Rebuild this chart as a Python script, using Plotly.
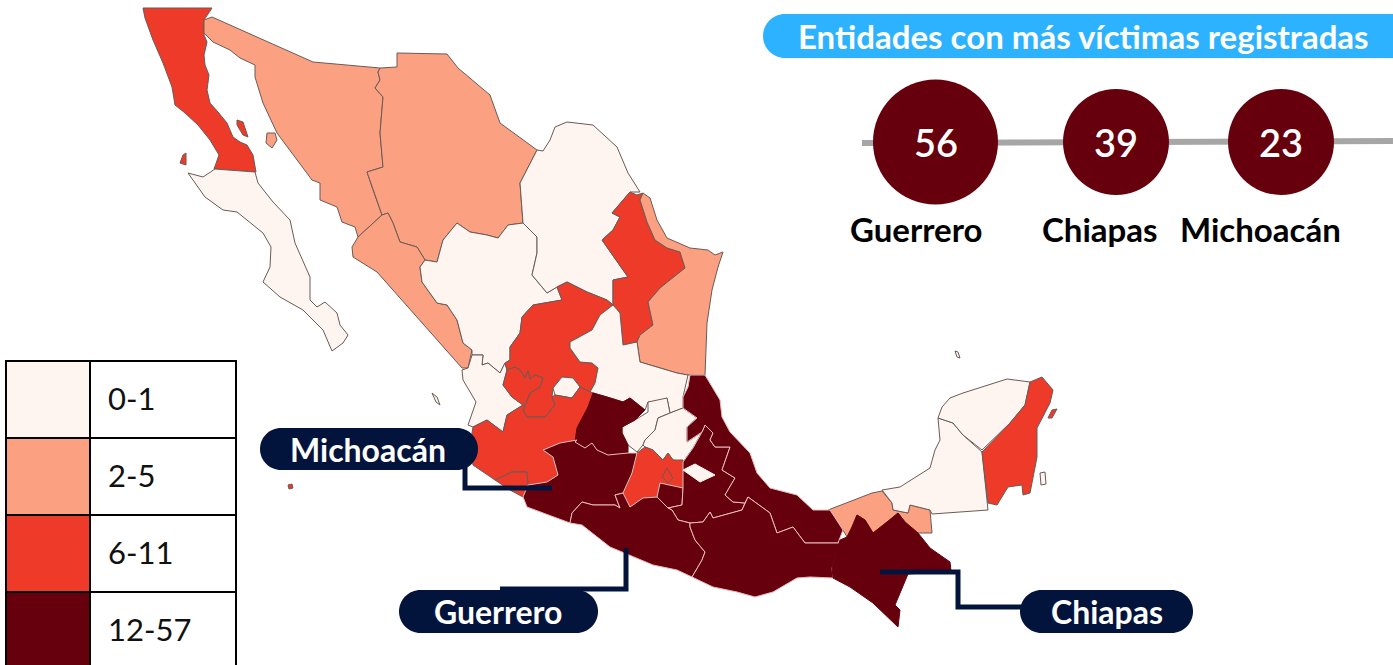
import plotly.graph_objects as go

# ---------- data ----------
STATE_NAMES = ["Baja California","Baja California Sur","Sonora","Chihuahua","Sinaloa","Durango","Nayarit",
    "Coahuila","Nuevo León","Tamaulipas","Zacatecas","Aguascalientes","San Luis Potosí","Jalisco","Colima",
    "Querétaro","Hidalgo","Estado de México","Ciudad de México","Tabasco","Campeche","Yucatán","Quintana Roo",
    "Guanajuato","Morelos","Michoacán","Puebla","Veracruz","Guerrero","Oaxaca","Chiapas","Tlaxcala"]
STATE_VALUES = [8,1,4,4,4,1,1,
    1,8,4,8,1,1,9,7,
    1,1,9,8,3,1,1,7,
    14,13,23,15,18,56,16,39,1]
LEGEND_LABELS = ["0-1","2-5","6-11","12-57"]
LEGEND_LOW = [0,2,6,12]
LEGEND_COLORS = ["#fff5f0","#fca082","#ee3a28","#67000d"]
TOP_NAMES = ["Guerrero","Chiapas","Michoacán"]
TOP_VALUES = [56,39,23]
TITLE = "Entidades con más víctimas registradas"

OUTLINES = {
"Baja California":[[(143,8),(212,8),(204,20),(204,35),(207,42),(204,55),(205,65),(209,75),(207,90),(210,103),(218,112),(227,123),(233,137),(240,142),(247,145),(253,155),(256,172),(214,169),(219,155),(210,140),(198,125),(185,113),(175,105),(172,87),(163,63),(153,40),(145,18)],
  [(237,120),(243,122),(248,137),(243,135),(237,125)],[(183,155),(186,153),(186,165),(180,163)]],
"Baja California Sur":[[(215,169),(255,172),(258,183),(273,202),(290,220),(295,243),(310,277),(310,300),(317,307),(325,302),(337,313),(340,325),(348,335),(343,343),(332,351),(323,330),(303,310),(280,297),(263,282),(270,267),(271,247),(263,233),(237,212),(223,210),(205,197),(188,173),(203,177)]],
"Sonora":[[(212,17),(313,62),(380,68),(378,72),(380,80),(375,88),(383,97),(380,133),(383,167),(367,172),(372,187),(378,203),(382,215),(358,237),(355,227),(342,222),(337,207),(320,200),(320,183),(312,180),(297,160),(277,133),(263,103),(255,77),(255,65),(240,58),(230,50),(213,42),(204,33),(204,20)],
  [(267,133),(275,133),(277,140),(272,148),(266,143)]],
"Chihuahua":[[(397,53),(447,54),(458,68),(490,95),(500,123),(537,150),(520,183),(523,223),(508,225),(498,238),(487,235),(470,232),(457,223),(443,240),(437,262),(425,260),(417,247),(400,242),(393,223),(388,213),(382,215),(378,203),(372,187),(367,172),(383,167),(380,133),(383,97),(375,88),(380,80),(378,72),(380,68),(397,67)]],
"Sinaloa":[[(382,215),(388,213),(393,223),(400,242),(417,247),(425,260),(420,267),(422,282),(437,303),(447,305),(457,320),(463,343),(472,350),(468,368),(462,368),(437,340),(413,313),(393,290),(377,272),(353,257),(352,247),(358,237)]],
"Durango":[[(457,223),(470,232),(487,235),(498,238),(508,225),(523,223),(537,237),(537,253),(532,275),(547,293),(557,287),(562,300),(533,305),(522,317),(520,333),(510,347),(510,360),(505,363),(500,373),(488,363),(482,365),(483,355),(472,355),(472,350),(463,343),(457,320),(447,305),(437,303),(422,282),(420,267),(425,260),(437,262),(443,240)]],
"Nayarit":[[(462,370),(463,380),(476,402),(468,425),(473,427),(487,420),(503,432),(507,415),(523,405),(512,397),(503,385),(507,370),(505,363),(500,373),(488,363),(482,365),(483,355),(472,355),(468,368)],
  [(432,393),(437,397),(440,405),(436,402)]],
"Coahuila":[[(537,150),(543,151),(550,140),(555,127),(567,122),(593,125),(617,147),(628,173),(640,192),(630,192),(612,213),(620,217),(613,230),(602,240),(623,270),(628,277),(613,280),(613,305),(607,300),(587,292),(567,282),(557,287),(547,293),(532,275),(537,253),(537,237),(523,223),(520,183)]],
"Nuevo León":[[(630,192),(637,195),(643,193),(640,200),(647,222),(655,240),(667,248),(680,252),(685,268),(660,288),(648,302),(653,325),(640,335),(637,342),(623,345),(620,313),(613,305),(613,280),(628,277),(623,270),(602,240),(613,230),(620,217),(612,213)]],
"Tamaulipas":[[(643,193),(650,198),(657,220),(667,238),(690,248),(708,250),(715,255),(723,252),(718,267),(712,290),(707,323),(705,375),(688,375),(677,373),(657,367),(640,362),(637,342),(640,335),(653,325),(648,302),(660,288),(685,268),(680,252),(667,248),(655,240),(647,222),(640,200)]],
"Zacatecas":[[(557,287),(567,282),(587,292),(607,300),(613,305),(600,315),(592,330),(570,342),(570,348),(580,362),(592,363),(598,368),(595,383),(590,392),(580,387),(573,378),(562,377),(553,388),(552,397),(555,405),(545,417),(527,417),(523,410),(528,398),(530,393),(540,387),(543,378),(535,375),(530,379),(528,371),(525,378),(520,370),(515,367),(507,370),(505,363),(510,360),(510,347),(520,333),(522,317),(533,305),(562,300)]],
"Aguascalientes":[[(553,388),(562,377),(573,378),(580,387),(572,398),(555,395)]],
"San Luis Potosí":[[(613,305),(620,313),(623,345),(637,342),(640,362),(657,367),(677,373),(688,375),(683,397),(683,408),(670,413),(667,398),(657,403),(648,402),(645,410),(630,398),(623,402),(607,397),(593,393),(590,392),(595,383),(598,368),(592,363),(580,362),(570,348),(570,342),(592,330),(600,315)]],
"Jalisco":[[(473,427),(487,420),(503,432),(507,415),(523,405),(512,397),(503,385),(507,370),(515,367),(520,370),(525,378),(528,371),(530,379),(535,375),(543,378),(540,387),(530,393),(528,398),(523,410),(527,417),(545,417),(555,405),(552,397),(555,395),(572,398),(580,387),(590,392),(593,393),(588,407),(577,428),(575,442),(560,443),(543,450),(553,457),(558,475),(547,482),(528,485),(527,472),(512,472),(495,480),(473,465),(470,445)]],
"Colima":[[(495,480),(512,472),(527,472),(528,485),(523,497),(510,490)],[(288,485),(292,484),(293,488),(289,489)]],
"Querétaro":[[(648,402),(667,398),(670,413),(658,418),(655,430),(645,440),(643,445),(637,452),(628,445),(622,433),(622,427),(635,420),(648,412)]],
"Hidalgo":[[(670,413),(683,408),(697,418),(687,427),(687,442),(702,432),(693,448),(683,462),(673,460),(668,453),(663,460),(653,450),(645,447),(643,445),(645,440),(655,430),(658,418)]],
"Estado de México":[[(645,447),(653,450),(663,460),(668,453),(673,460),(683,460),(683,488),(670,485),(660,483),(657,497),(643,498),(630,507),(623,493),(632,473),(637,453)]],
"Ciudad de México":[[(667,468),(673,478),(668,483),(662,477)]],
"Tabasco":[[(828,510),(848,502),(872,493),(882,491),(892,503),(893,510),(908,513),(910,505),(930,510),(932,533),(918,533),(905,522),(898,513),(887,522),(873,533),(865,520),(857,515),(852,527),(847,537),(843,530)]],
"Campeche":[[(882,490),(900,487),(930,468),(935,450),(940,440),(938,418),(953,423),(963,435),(982,452),(988,510),(932,514),(930,510),(910,505),(908,513),(893,510),(892,503)]],
"Yucatán":[[(938,418),(942,407),(950,398),(963,393),(1007,379),(1030,382),(1025,405),(1010,423),(982,450),(963,435),(953,423)],
  [(955,351),(958,352),(960,358),(957,357)],[(1040,473),(1045,472),(1046,484),(1041,485)]],
"Quintana Roo":[[(1030,382),(1042,377),(1053,390),(1050,403),(1037,428),(1037,457),(1030,493),(1023,495),(1022,485),(1008,487),(997,505),(988,503),(982,452),(1010,423),(1025,405)],
  [(1048,418),(1052,410),(1057,409),(1052,418)]],
"Guanajuato":[[(575,442),(577,428),(588,407),(593,393),(607,397),(623,402),(630,398),(645,410),(635,420),(622,427),(622,433),(628,445),(628,453),(608,455),(597,450),(592,443),(585,448)]],
"Morelos":[[(660,483),(683,488),(682,505),(668,508),(657,497)]],
"Michoacán":[[(577,440),(560,443),(543,450),(553,457),(558,475),(547,482),(528,485),(523,497),(527,507),(570,523),(572,513),(582,502),(593,505),(615,505),(620,508),(615,495),(623,493),(632,473),(637,453),(628,453),(608,455),(597,450),(592,443),(585,448),(575,442)]],
"Puebla":[[(702,432),(705,425),(713,433),(710,440),(715,447),(730,447),(722,470),(735,478),(725,495),(733,502),(745,503),(747,498),(742,510),(713,518),(710,512),(703,522),(690,523),(678,520),(672,510),(668,508),(682,505),(683,488),(683,462),(693,448)]],
"Veracruz":[[(690,375),(705,375),(720,400),(722,417),(730,432),(750,453),(757,473),(770,488),(797,495),(813,510),(830,510),(843,530),(838,543),(805,543),(793,527),(777,533),(770,513),(748,497),(745,503),(733,502),(725,495),(735,478),(722,470),(730,447),(715,447),(710,440),(713,433),(705,425),(702,432),(687,442),(687,427),(697,418),(683,408),(683,397),(688,387)]],
"Guerrero":[[(570,523),(582,525),(610,547),(653,565),(677,570),(692,577),(702,560),(705,552),(695,540),(690,527),(690,523),(678,520),(672,510),(668,508),(657,497),(643,498),(630,507),(623,493),(615,495),(620,508),(615,505),(593,505),(582,502),(572,513)]],
"Oaxaca":[[(692,577),(713,587),(737,592),(755,597),(773,592),(797,578),(810,577),(833,578),(832,568),(840,543),(838,543),(805,543),(793,527),(777,533),(770,513),(748,497),(742,510),(713,518),(710,512),(703,522),(690,523),(690,527),(695,540),(705,552),(702,560)]],
"Chiapas":[[(833,578),(832,567),(840,540),(847,537),(852,527),(857,515),(865,520),(873,533),(887,522),(898,513),(905,522),(918,533),(930,548),(950,562),(951,571),(908,574),(895,605),(900,610),(898,627),(873,603),(850,587)]],
"Tlaxcala":[[(683,470),(695,464),(715,475),(700,482),(693,477)]],
}

W, H = 1393, 665

def class_color(v):
    c = LEGEND_COLORS[0]
    for low, col in zip(LEGEND_LOW, LEGEND_COLORS):
        if v >= low:
            c = col
    return c

LIGHT_BORDER = {"Michoacán","Puebla","Veracruz","Guerrero","Oaxaca","Morelos"}
NO_BORDER = {"Guanajuato","Chiapas","Tlaxcala"}

fig = go.Figure()
for name, value in zip(STATE_NAMES, STATE_VALUES):
    xs, ys = [], []
    for ring in OUTLINES[name]:
        xs += [p[0] for p in ring] + [ring[0][0], None]
        ys += [p[1] for p in ring] + [ring[0][1], None]
    fill = class_color(value)
    if name in LIGHT_BORDER:
        lc = "#e9bcbc"
    elif name in NO_BORDER:
        lc = fill
    else:
        lc = "#6b5a56"
    fig.add_trace(go.Scatter(x=xs, y=ys, mode="lines", fill="toself", fillcolor=fill, name=name,
        line=dict(color=lc, width=1), hoverinfo="name"))

FONT = "Lato, 'Open Sans', sans-serif"
NAVY = "#03143c"
DARK = LEGEND_COLORS[3]

# top-ranked entities: bubble row
BUBBLE_X = [935.5, 1116, 1281]
BUBBLE_SIZE = [125, 106, 106]
BUBBLE_Y = 142
fig.add_trace(go.Scatter(x=[862, 1393], y=[143, 141], mode="lines", line=dict(color="#a6a6a6", width=6),
    hoverinfo="skip", cliponaxis=False))
fig.add_trace(go.Scatter(x=BUBBLE_X, y=[BUBBLE_Y]*3, mode="markers",
    marker=dict(size=BUBBLE_SIZE, color=DARK, opacity=1, line=dict(width=0)), hoverinfo="skip"))

def pill(x0, y0, x1, y1, color):
    r = (y1-y0)/2
    k = r*0.5523
    path = (f"M {x0+r},{y0} L {x1-r},{y0} C {x1-r+k},{y0} {x1},{y0+r-k} {x1},{y0+r} "
            f"C {x1},{y0+r+k} {x1-r+k},{y1} {x1-r},{y1} L {x0+r},{y1} "
            f"C {x0+r-k},{y1} {x0},{y0+r+k} {x0},{y0+r} C {x0},{y0+r-k} {x0+r-k},{y0} {x0+r},{y0} Z")
    return dict(type="path", path=path, fillcolor=color, line=dict(width=0), xref="x", yref="y", layer="above")

shapes = []
annotations = []
def text(x, y, s, size, color, anchor="center", weight="normal"):
    annotations.append(dict(x=x, y=y, xref="x", yref="y", text=s, showarrow=False, xanchor=anchor, yanchor="middle",
        font=dict(family=FONT, size=size, color=color, weight=weight)))

# title pill
shapes.append(pill(763, 14, 1440, 58, "#2db2ff"))
text(1083, 36, TITLE, 33, "white", weight="bold")
for x, n in zip([916, 1100, 1260], TOP_NAMES):
    text(x, 229, n, 33, "black", weight="bold")
for x, v in zip(BUBBLE_X, TOP_VALUES):
    text(x, 142, str(v), 38, "white", weight=600)

# callouts
def path_line(pts):
    p = "M " + " L ".join(f"{x},{y}" for x, y in pts)
    return dict(type="path", path=p, line=dict(color=NAVY, width=5), xref="x", yref="y", layer="above")
shapes.append(path_line([(465,465),(465,488),(552,488)]))
shapes.append(path_line([(500,589),(626,589),(626,548)]))
shapes.append(path_line([(880,572),(958,572),(958,607),(1025,607)]))
shapes.append(pill(260, 428, 478, 470, NAVY)); text(368, 449, "Michoacán", 32, "white", weight="bold")
shapes.append(pill(399, 590, 598, 633, NAVY)); text(498, 611, "Guerrero", 32, "white", weight="bold")
shapes.append(pill(1020, 590, 1193, 633, NAVY)); text(1107, 611, "Chiapas", 32, "white", weight="bold")

# legend table
ROW_TOP = [361, 438, 515, 592]
ROW_H = 77
for yt, c, lab in zip(ROW_TOP, LEGEND_COLORS, LEGEND_LABELS):
    shapes.append(dict(type="rect", x0=6, x1=90, y0=yt, y1=yt+ROW_H, fillcolor=c, line=dict(color="black", width=2), xref="x", yref="y", layer="above"))
    shapes.append(dict(type="rect", x0=90, x1=236, y0=yt, y1=yt+ROW_H, fillcolor="white", line=dict(color="black", width=2), xref="x", yref="y", layer="above"))
    text(106, yt+37, lab, 31, "#111111", anchor="left")

fig.update_layout(
    width=W, height=H, margin=dict(l=0, r=0, t=0, b=0), paper_bgcolor="white", plot_bgcolor="white",
    showlegend=False, shapes=shapes, annotations=annotations,
    xaxis=dict(range=[0, W], visible=False, fixedrange=True, domain=[0,1]),
    yaxis=dict(range=[H, 0], visible=False, fixedrange=True, domain=[0,1]),
)
fig.write_html("out.html", post_script="document.body.style.margin='0';document.body.style.overflow='hidden';",
               config={"displayModeBar": False})
